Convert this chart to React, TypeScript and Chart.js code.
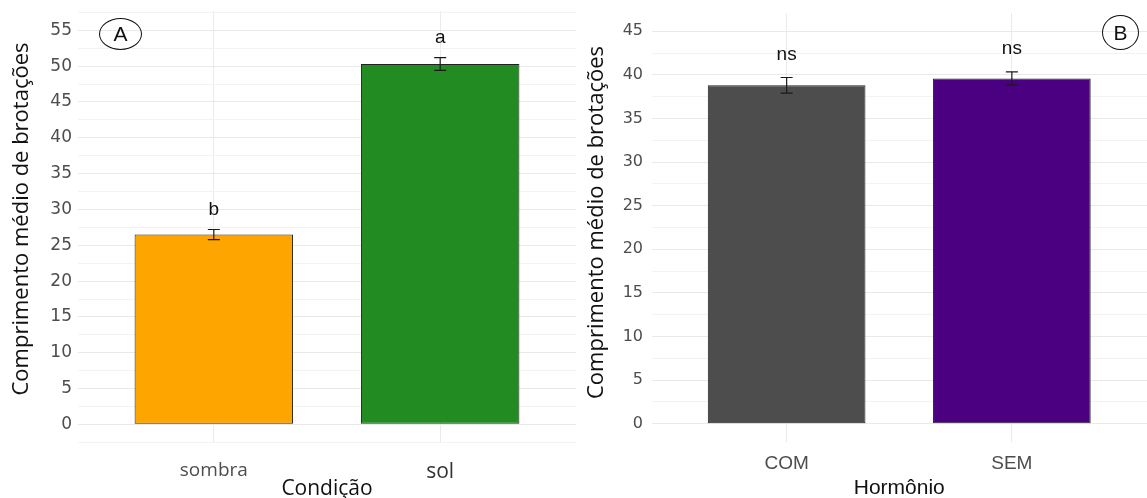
import React, { useEffect, useRef } from 'react';
import { Chart, registerables } from 'chart.js';

Chart.register(...registerables);

// ---- Panel A data ----
const categoriesA = ['sombra', 'sol'];
const meansA = [26.5, 50.3];
const errorsA = [0.7, 0.9];
const lettersA = ['b', 'a'];
const colorsA = ['#FFA500', '#228B22'];
const yTicksA = [0, 5, 10, 15, 20, 25, 30, 35, 40, 45, 50, 55];

// ---- Panel B data ----
const categoriesB = ['COM', 'SEM'];
const meansB = [38.8, 39.6];
const errorsB = [0.9, 0.75];
const lettersB = ['ns', 'ns'];
const colorsB = ['#4D4D4D', '#4B0082'];
const yTicksB = [0, 5, 10, 15, 20, 25, 30, 35, 40, 45];

const Y_TITLE = 'Comprimento médio de brotações';

type PanelCfg = {
  cats: string[];
  means: number[];
  errors: number[];
  letters: string[];
  colors: string[];
  yTicks: number[];
  yMin: number;
  yMax: number;
  yWidth: number;
  yTickPad: number;
  yTickFont: any;
  yTitleX: number;
  yTitleShift: number;
  xHeight: number;
  padTop: number;
  padRight: number;
  xTickPad: number;
  xTickFont: (i: number) => any;
  xTickColor: (i: number) => string;
  xTitle: string;
  xTitleFont: any;
  xTitlePadBottom: number;
};

function makeAnnotPlugin(p: PanelCfg) {
  return {
    id: 'annot',
    afterDatasetsDraw(chart: any) {
      const { ctx } = chart;
      const meta = chart.getDatasetMeta(0);
      const ys = chart.scales.y;
      meta.data.forEach((el: any, i: number) => {
        const m = p.means[i];
        const e = p.errors[i];
        const x = el.x;
        const yTop = ys.getPixelForValue(m + e);
        const yBot = ys.getPixelForValue(m - e);
        ctx.save();
        ctx.strokeStyle = '#1a1a1a';
        ctx.lineWidth = 1.2;
        ctx.beginPath();
        ctx.moveTo(x, yTop);
        ctx.lineTo(x, yBot);
        ctx.moveTo(x - 6, yTop);
        ctx.lineTo(x + 6, yTop);
        ctx.moveTo(x - 6, yBot);
        ctx.lineTo(x + 6, yBot);
        ctx.stroke();
        ctx.font = '19px "Liberation Sans", Arial, sans-serif';
        ctx.fillStyle = '#111';
        ctx.textAlign = 'center';
        ctx.textBaseline = 'alphabetic';
        ctx.fillText(p.letters[i], x, ys.getPixelForValue(m + e + 2));
        ctx.restore();
      });
    },
    afterDraw(chart: any) {
      const { ctx, chartArea } = chart;
      const cy = (chartArea.top + chartArea.bottom) / 2 + p.yTitleShift;
      ctx.save();
      ctx.translate(p.yTitleX, cy);
      ctx.rotate(-Math.PI / 2);
      ctx.font = '22px "Open Sans", sans-serif';
      ctx.fillStyle = '#111';
      ctx.textAlign = 'center';
      ctx.textBaseline = 'middle';
      ctx.fillText(Y_TITLE, 0, 0);
      ctx.restore();
    },
  };
}

function makeConfig(p: PanelCfg): any {
  const isMajor = (v: number) => p.yTicks.includes(v);
  return {
    type: 'bar',
    data: {
      datasets: [
        {
          data: p.means.map((v, i) => ({ x: i + 1, y: v })),
          backgroundColor: p.colors,
          borderColor: '#222222',
          borderWidth: 1,
          borderSkipped: false,
          categoryPercentage: 0.7,
          barPercentage: 1,
        },
      ],
    },
    options: {
      animation: false,
      responsive: true,
      maintainAspectRatio: false,
      layout: { padding: { top: p.padTop, right: p.padRight, left: 0, bottom: 0 } },
      plugins: { legend: { display: false }, tooltip: { enabled: false } },
      scales: {
        x: {
          type: 'linear',
          offset: false,
          min: 0.4,
          max: p.cats.length + 0.6,
          afterBuildTicks: (s: any) => {
            s.ticks = p.cats.map((_, i) => ({ value: i + 1 }));
          },
          afterFit: (s: any) => {
            s.height = p.xHeight;
            s.paddingLeft = 0;
            s.paddingRight = 0;
          },
          grid: { color: '#ebebeb', lineWidth: 1, drawTicks: false, offset: false },
          border: { display: false },
          ticks: {
            autoSkip: false,
            maxRotation: 0,
            padding: p.xTickPad,
            callback: (v: number) => p.cats[Math.round(v) - 1],
            font: (c: any) => p.xTickFont(c.index),
            color: (c: any) => p.xTickColor(c.index),
          },
          title: {
            display: true,
            text: p.xTitle,
            font: p.xTitleFont,
            color: '#111',
            padding: { top: 0, bottom: p.xTitlePadBottom },
          },
        },
        y: {
          type: 'linear',
          min: p.yMin,
          max: p.yMax,
          afterBuildTicks: (s: any) => {
            const out: any[] = [];
            p.yTicks.forEach((v, i) => {
              const prev = i === 0 ? v - 2.5 : (v + p.yTicks[i - 1]) / 2;
              if (prev >= p.yMin) out.push({ value: prev });
              out.push({ value: v });
            });
            const last = p.yTicks[p.yTicks.length - 1];
            const nxt = last + 2.5;
            if (nxt <= p.yMax) out.push({ value: nxt });
            s.ticks = out;
          },
          afterFit: (s: any) => {
            s.width = p.yWidth;
            s.paddingTop = 0;
            s.paddingBottom = 0;
          },
          grid: {
            drawTicks: false,
            color: (c: any) => (c.tick && isMajor(c.tick.value) ? '#e9e9e9' : '#f3f3f3'),
            lineWidth: 1,
          },
          border: { display: false },
          ticks: {
            autoSkip: false,
            padding: p.yTickPad,
            callback: (v: number) => (isMajor(v) ? String(v) : ''),
            font: p.yTickFont,
            color: '#4d4d4d',
          },
          title: { display: false },
        },
      },
    },
    plugins: [makeAnnotPlugin(p)],
  };
}

const cfgA: PanelCfg = {
  cats: categoriesA,
  means: meansA,
  errors: errorsA,
  letters: lettersA,
  colors: colorsA,
  yTicks: yTicksA,
  yMin: -2.6,
  yMax: 57.7,
  yWidth: 78,
  yTickPad: 6,
  yTickFont: { family: '"DejaVu Sans", sans-serif', size: 17 },
  yTitleX: 22,
  yTitleShift: -8,
  xHeight: 55,
  padTop: 11,
  padRight: 2,
  xTickPad: 16,
  xTickFont: (i: number) => ({ family: '"Open Sans", sans-serif', size: i === 1 ? 21 : 19 }),
  xTickColor: (i: number) => (i === 1 ? '#333' : '#4d4d4d'),
  xTitle: 'Condição',
  xTitleFont: { family: '"Open Sans", sans-serif', size: 21, lineHeight: 0.8 },
  xTitlePadBottom: 1,
};

const cfgB: PanelCfg = {
  cats: categoriesB,
  means: meansB,
  errors: errorsB,
  letters: lettersB,
  colors: colorsB,
  yTicks: yTicksB,
  yMin: -2.1,
  yMax: 47.1,
  yWidth: 73.5,
  yTickPad: 8.5,
  yTickFont: { family: '"DejaVu Sans", sans-serif', size: 16 },
  yTitleX: 19,
  yTitleShift: -5,
  xHeight: 56,
  padTop: 13,
  padRight: 0,
  xTickPad: 10,
  xTickFont: () => ({ family: '"Liberation Sans", Arial, sans-serif', size: 19 }),
  xTickColor: () => '#4d4d4d',
  xTitle: 'Hormônio',
  xTitleFont: { family: '"Liberation Sans", Arial, sans-serif', size: 21, lineHeight: 0.8 },
  xTitlePadBottom: 1,
};

function Panel({ cfg }: { cfg: PanelCfg }) {
  const ref = useRef<HTMLCanvasElement | null>(null);
  useEffect(() => {
    if (!ref.current) return;
    const chart = new Chart(ref.current, makeConfig(cfg));
    return () => chart.destroy();
  }, [cfg]);
  return <canvas ref={ref} />;
}

const ellipseStyle = (left: number, top: number, w: number, h: number): React.CSSProperties => ({
  position: 'absolute',
  left,
  top,
  width: w,
  height: h,
  border: '1.3px solid #111',
  borderRadius: '50%',
  boxSizing: 'border-box',
  display: 'flex',
  alignItems: 'center',
  justifyContent: 'center',
  fontFamily: '"Liberation Sans", Arial, sans-serif',
  fontSize: 21,
  color: '#111',
  background: 'transparent',
});

export default function App() {
  return (
    <div style={{ position: 'fixed', left: 0, top: 0, width: 1147, height: 498, background: '#fff', overflow: 'hidden' }}>
      <div style={{ position: 'absolute', left: 0, top: 0, width: 578, height: 498 }}>
        <Panel cfg={cfgA} />
      </div>
      <div style={{ position: 'absolute', left: 578, top: 0, width: 569, height: 498 }}>
        <Panel cfg={cfgB} />
      </div>
      <div style={ellipseStyle(99, 18, 43, 32)}>A</div>
      <div style={ellipseStyle(1102, 15, 37, 35)}>B</div>
    </div>
  );
}
